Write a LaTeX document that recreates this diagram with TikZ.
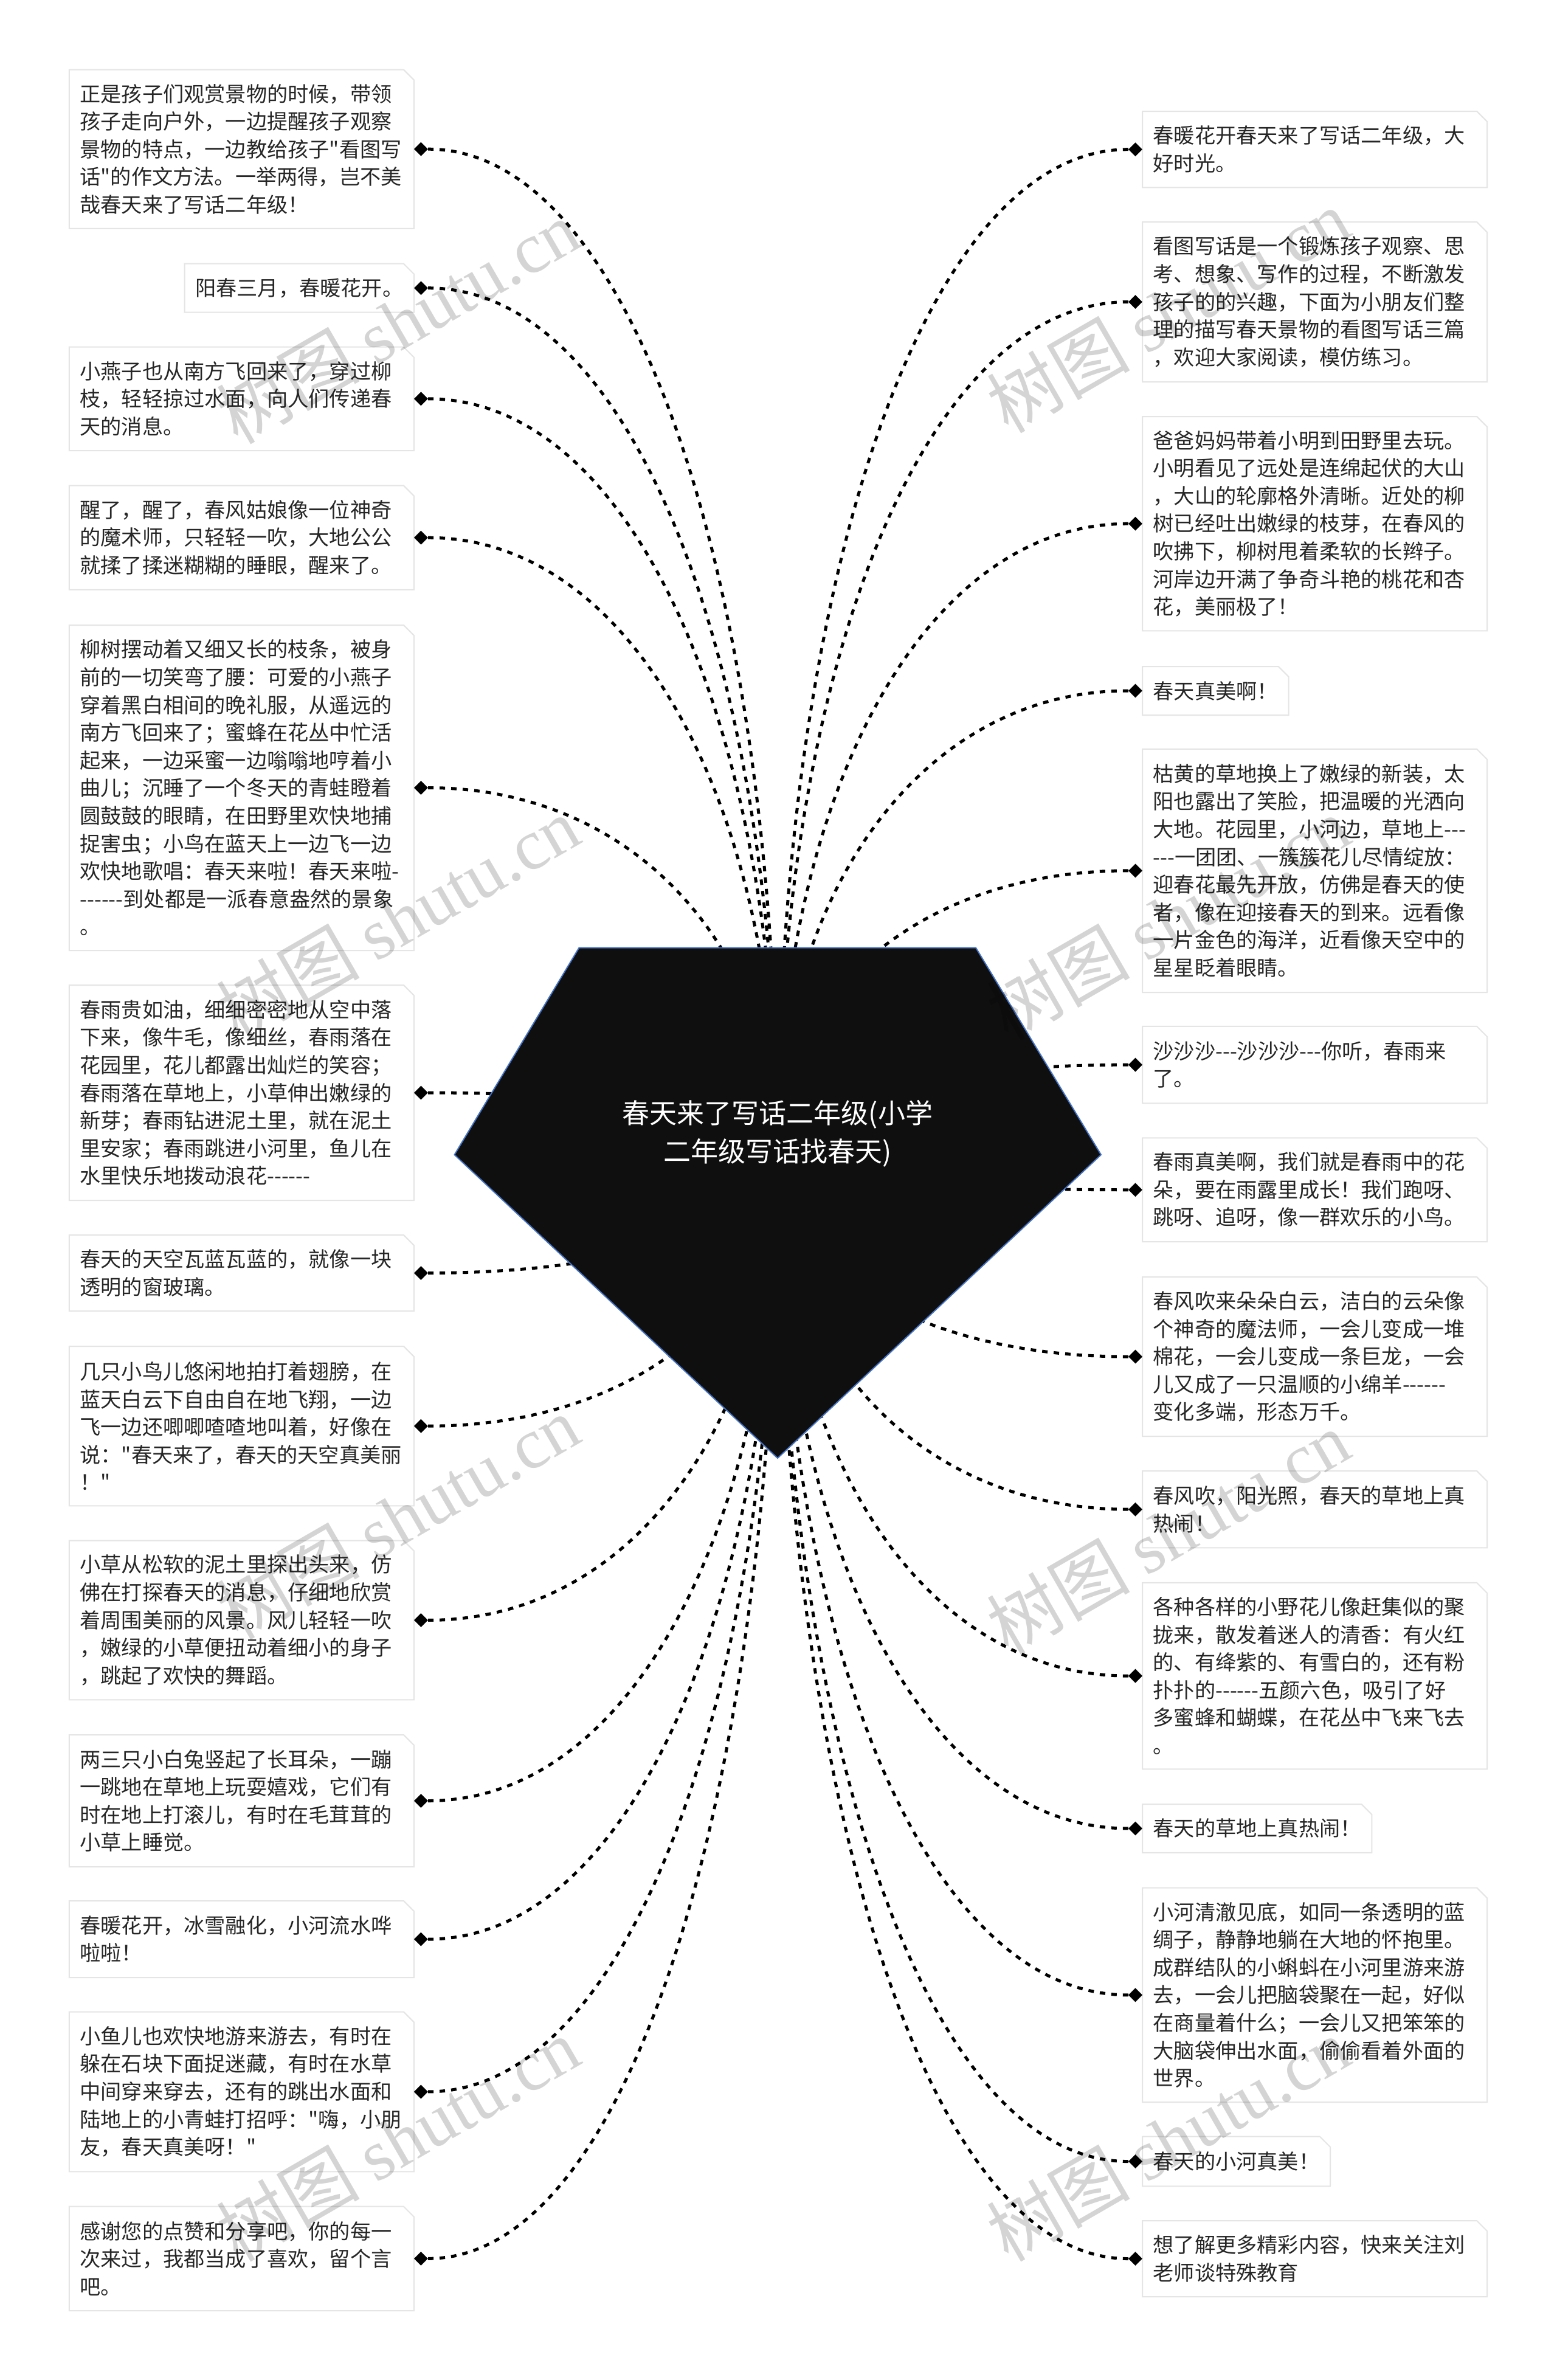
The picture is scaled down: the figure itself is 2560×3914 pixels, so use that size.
\documentclass[tikz,border=0pt]{standalone}
\usepackage{fontspec}
\setmainfont{Noto Sans CJK SC}
\setmonofont{Noto Sans CJK SC}
\newfontfamily\wmserif{Liberation Serif}
\usetikzlibrary{shapes.geometric,calc}
\newcommand\frm[1]{\draw[frame] (#1.south west) -- (#1.north west) -- ([xshift=-17pt]#1.north east) -- ([yshift=-17pt]#1.north east) -- (#1.south east) -- cycle;}
\newcommand\dotL[1]{\node[dmd] (d#1) at ([xshift=11.5pt]#1.east) {};}
\newcommand\dotR[1]{\node[dmd] (d#1) at ([xshift=-11.5pt]#1.west) {};}
\newcommand\linkL[1]{\draw[link] (d#1.east) .. controls ($(d#1.east)!0.6!(d#1.east -| hub)$) and ($(hub)!0.55!(hub |- d#1.east)$) .. (hub);}
\newcommand\linkR[1]{\draw[link] (d#1.west) .. controls ($(d#1.west)!0.6!(d#1.west -| hub)$) and ($(hub)!0.55!(hub |- d#1.west)$) .. (hub);}
\begin{document}
\begin{tikzpicture}[x=1pt,y=-1pt,
  txt/.style={font=\ttfamily\fontsize{34.2}{45.6}\selectfont, text=black!85},
  box/.style={txt, anchor=north west, inner xsep=17.5pt, inner ysep=0pt, text width=531.7pt, align=left},
  sbox/.style={txt, anchor=north west, inner xsep=17.5pt, inner ysep=0pt},
  frame/.style={draw=black!10, line width=2pt},
  dmd/.style={diamond, fill=black, minimum width=23pt, minimum height=23pt, inner sep=0pt},
  link/.style={draw=black, line width=5pt, dash pattern=on 9pt off 10pt},
  wm/.style={rotate=30, text=black, opacity=0.17, font=\fontsize{118}{118}\selectfont}]
\fill[white] (0,0) rectangle (2560,3914);
\path[use as bounding box] (0,0) rectangle (2560,3914);
\coordinate (hub) at (1279,1899);
% ---------------- left column ----------------
\node[box, minimum height=261pt] (L1) at (113.8,114.5) {正是孩子们观赏景物的时候，带领\\孩子走向户外，一边提醒孩子观察\\景物的特点，一边教给孩子"看图写\\话"的作文方法。一举两得，岂不美\\哉春天来了写话二年级！};
\node[sbox, minimum height=79.6pt] (L2) at (303.6,433.7) {阳春三月，春暖花开。};
\node[box, minimum height=170pt] (L3) at (113.8,570.6) {小燕子也从南方飞回来了，穿过柳\\枝，轻轻掠过水面，向人们传递春\\天的消息。};
\node[box, minimum height=171pt] (L4) at (113.8,798.5) {醒了，醒了，春风姑娘像一位神奇\\的魔术师，只轻轻一吹，大地公公\\就揉了揉迷糊糊的睡眼，醒来了。};
\node[box, minimum height=534.6pt] (L5) at (113.8,1028) {柳树摆动着又细又长的枝条，被身\\前的一切笑弯了腰：可爱的小燕子\\穿着黑白相间的晚礼服，从遥远的\\南方飞回来了；蜜蜂在花丛中忙活\\起来，一边采蜜一边嗡嗡地哼着小\\曲儿；沉睡了一个冬天的青蛙瞪着\\圆鼓鼓的眼睛，在田野里欢快地捕\\捉害虫；小鸟在蓝天上一边飞一边\\欢快地歌唱：春天来啦！春天来啦-\\------到处都是一派春意盎然的景象\\。};
\node[box, minimum height=353.6pt] (L6) at (113.8,1620) {春雨贵如油，细细密密地从空中落\\下来，像牛毛，像细丝，春雨落在\\花园里，花儿都露出灿烂的笑容；\\春雨落在草地上，小草伸出嫩绿的\\新芽；春雨钻进泥土里，就在泥土\\里安家；春雨跳进小河里，鱼儿在\\水里快乐地拨动浪花------};
\node[box, minimum height=124.6pt] (L7) at (113.8,2031) {春天的天空瓦蓝瓦蓝的，就像一块\\透明的窗玻璃。};
\node[box, minimum height=262pt] (L8) at (113.8,2214) {几只小鸟儿悠闲地拍打着翅膀，在\\蓝天白云下自由自在地飞翔，一边\\飞一边还唧唧喳喳地叫着，好像在\\说："春天来了，春天的天空真美丽\\！"};
\node[box, minimum height=261.5pt] (L9) at (113.8,2533.5) {小草从松软的泥土里探出头来，仿\\佛在打探春天的消息，仔细地欣赏\\着周围美丽的风景。风儿轻轻一吹\\，嫩绿的小草便扭动着细小的身子\\，跳起了欢快的舞蹈。};
\node[box, minimum height=216.6pt] (L10) at (113.8,2853) {两三只小白兔竖起了长耳朵，一蹦\\一跳地在草地上玩耍嬉戏，它们有\\时在地上打滚儿，有时在毛茸茸的\\小草上睡觉。};
\node[box, minimum height=125.8pt] (L11) at (113.8,3126) {春暖花开，冰雪融化，小河流水哗\\啦啦！};
\node[box, minimum height=262.5pt] (L12) at (113.8,3308.5) {小鱼儿也欢快地游来游去，有时在\\躲在石块下面捉迷藏，有时在水草\\中间穿来穿去，还有的跳出水面和\\陆地上的小青蛙打招呼："嗨，小朋\\友，春天真美呀！"};
\node[box, minimum height=171pt] (L13) at (113.8,3628.6) {感谢您的点赞和分享吧，你的每一\\次来过，我都当成了喜欢，留个言\\吧。};
% ---------------- right column ----------------
\node[box, minimum height=125pt] (R1) at (1879,183) {春暖花开春天来了写话二年级，大\\好时光。};
\node[box, minimum height=262.6pt] (R2) at (1879,365) {看图写话是一个锻炼孩子观察、思\\考、想象、写作的过程，不断激发\\孩子的的兴趣，下面为小朋友们整\\理的描写春天景物的看图写话三篇\\，欢迎大家阅读，模仿练习。};
\node[box, minimum height=352pt] (R3) at (1879,685) {爸爸妈妈带着小明到田野里去玩。\\小明看见了远处是连绵起伏的大山\\，大山的轮廓格外清晰。近处的柳\\树已经吐出嫩绿的枝芽，在春风的\\吹拂下，柳树甩着柔软的长辫子。\\河岸边开满了争奇斗艳的桃花和杏\\花，美丽极了！};
\node[sbox, minimum height=79.6pt] (R4) at (1879,1096) {春天真美啊！};
\node[box, minimum height=399.8pt] (R5) at (1879,1231.8) {枯黄的草地换上了嫩绿的新装，太\\阳也露出了笑脸，把温暖的光洒向\\大地。花园里，小河边，草地上---\\---一团团、一簇簇花儿尽情绽放：\\迎春花最先开放，仿佛是春天的使\\者，像在迎接春天的到来。远看像\\一片金色的海洋，近看像天空中的\\星星眨着眼睛。};
\node[box, minimum height=126.2pt] (R6) at (1879,1687.8) {沙沙沙---沙沙沙---你听，春雨来\\了。};
\node[box, minimum height=170.3pt] (R7) at (1879,1871.4) {春雨真美啊，我们就是春雨中的花\\朵，要在雨露里成长！我们跑呀、\\跳呀、追呀，像一群欢乐的小鸟。};
\node[box, minimum height=261.7pt] (R8) at (1879,2100) {春风吹来朵朵白云，洁白的云朵像\\个神奇的魔法师，一会儿变成一堆\\棉花，一会儿变成一条巨龙，一会\\儿又成了一只温顺的小绵羊------\\变化多端，形态万千。};
\node[box, minimum height=126pt] (R9) at (1879,2419) {春风吹，阳光照，春天的草地上真\\热闹！};
\node[box, minimum height=306.2pt] (R10) at (1879,2602.8) {各种各样的小野花儿像赶集似的聚\\拢来，散发着迷人的清香：有火红\\的、有绛紫的、有雪白的，还有粉\\扑扑的------五颜六色，吸引了好\\多蜜蜂和蝴蝶，在花丛中飞来飞去\\。};
\node[sbox, minimum height=79.5pt] (R11) at (1879,2967) {春天的草地上真热闹！};
\node[box, minimum height=352.3pt] (R12) at (1879,3104.5) {小河清澈见底，如同一条透明的蓝\\绸子，静静地躺在大地的怀抱里。\\成群结队的小蝌蚪在小河里游来游\\去，一会儿把脑袋聚在一起，好似\\在商量着什么；一会儿又把笨笨的\\大脑袋伸出水面，偷偷看着外面的\\世界。};
\node[sbox, minimum height=81.3pt] (R13) at (1879,3513.7) {春天的小河真美！};
\node[box, minimum height=124.6pt] (R14) at (1879,3652) {想了解更多精彩内容，快来关注刘\\老师谈特殊教育};
% frames
\foreach \n in {L1,L2,L3,L4,L5,L6,L7,L8,L9,L10,L11,L12,L13,R1,R2,R3,R4,R5,R6,R7,R8,R9,R10,R11,R12,R13,R14} {\frm{\n}}
% diamonds
\foreach \n in {L1,L2,L3,L4,L5,L6,L7,L8,L9,L10,L11,L12,L13} {\dotL{\n}}
\foreach \n in {R1,R2,R3,R4,R5,R6,R7,R8,R9,R10,R11,R12,R13,R14} {\dotR{\n}}
% connectors
\foreach \n in {L1,L2,L3,L4,L5,L6,L7,L8,L9,L10,L11,L12,L13} {\linkL{\n}}
\foreach \n in {R1,R2,R3,R4,R5,R6,R7,R8,R9,R10,R11,R12,R13,R14} {\linkR{\n}}
% central shape
\fill[fill=black!94, draw={rgb,255:red,68;green,114;blue,196}, line width=2pt]
  (952.5,1558.5) -- (1605,1558.5) -- (1811,1899) -- (1279,2398) -- (747.5,1899) -- cycle;
\node[text=white, align=center, font=\fontsize{45}{63}\selectfont] (root) at (1279,1864) {春天来了写话二年级(小学\\二年级写话找春天)};
% watermarks
\foreach \p in {(654,529),(1921,511),(654,1510),(1921,1510),(654,2495),(1921,2520),(654,3518),(1921,3518)} {
  \node[wm] at \p {树图 {\wmserif shutu.cn}};
}
\end{tikzpicture}
\end{document}
